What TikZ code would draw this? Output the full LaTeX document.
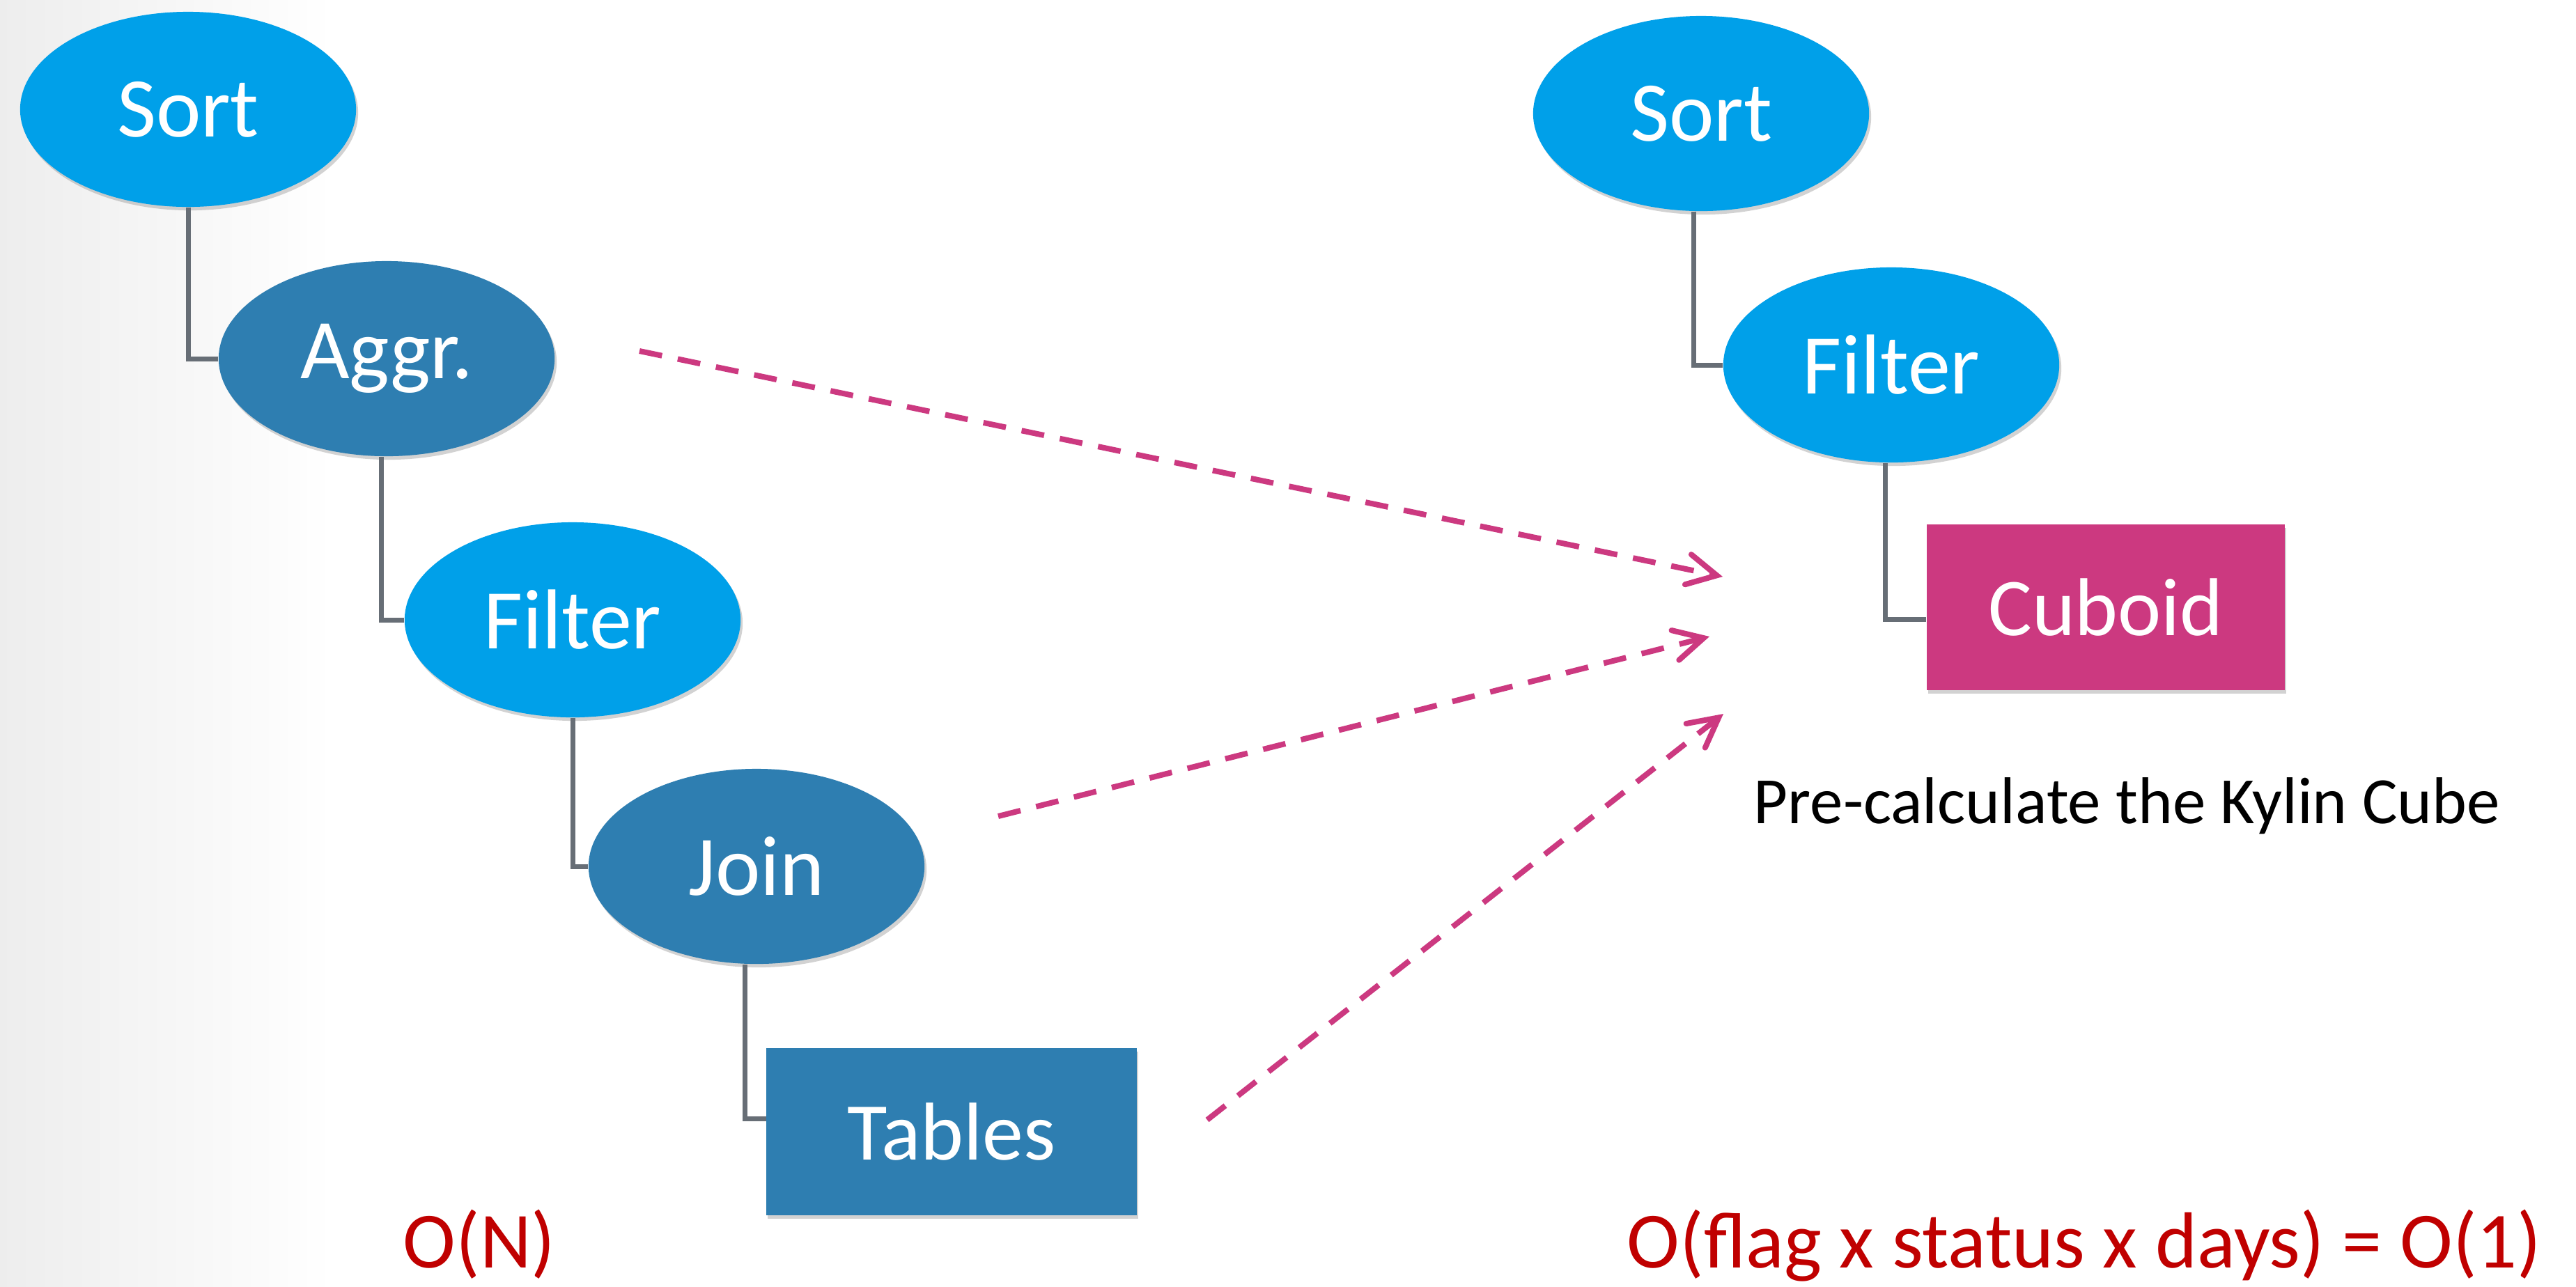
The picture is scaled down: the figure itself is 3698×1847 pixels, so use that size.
\documentclass[tikz,border=0pt]{standalone}
\usepackage{fontspec}
\setmainfont{Carlito}
\usetikzlibrary{shapes.geometric,arrows.meta,shadows}

\definecolor{opLight}{RGB}{0,160,233}
\definecolor{opDark}{RGB}{46,126,177}
\definecolor{cubeMag}{RGB}{204,57,128}
\definecolor{linkGray}{RGB}{103,110,118}
\definecolor{costRed}{RGB}{192,0,0}

\begin{document}
\begin{tikzpicture}[x=0.01cm,y=-0.01cm,
  opnode/.style={ellipse, minimum width=4.82cm, minimum height=2.8cm, inner sep=0pt,
    text=white, font=\fontsize{34.7}{41}\selectfont,
    drop shadow={shadow xshift=0.03cm, shadow yshift=-0.05cm, opacity=0.35}},
  lightop/.style={opnode, fill=opLight},
  darkop/.style={opnode, fill=opDark},
  boxnode/.style={rectangle, inner sep=0pt, text=white, font=\fontsize{33.5}{40}\selectfont,
    drop shadow={shadow xshift=0.02cm, shadow yshift=-0.05cm, opacity=0.35}},
  conn/.style={draw=linkGray, line width=0.07cm},
  flow/.style={draw=cubeMag, line width=0.08cm, dash pattern=on 0.33cm off 0.23cm,
    -{Straight Barb[length=0.42cm, width=0.44cm, line cap=round]}},
  cost/.style={anchor=base west, inner sep=0pt, text=costRed, font=\fontsize{32.5}{39}\selectfont}
]
\useasboundingbox (0,0) rectangle (3698,1847);
\fill[white] (0,0) rectangle (3698,1847);
\shade[left color=gray!14, right color=white] (0,0) rectangle (480,1847);

% query plan tree
\node[lightop] (sortL) at (270,157) {Sort};
\node[darkop] (aggrL) at (555,515) {Aggr.};
\node[lightop] (filterL) at (822,890) {Filter};
\node[darkop] (joinL) at (1086,1244) {Join};
\node[boxnode, fill=opDark, minimum width=5.31cm, minimum height=2.4cm] (tables) at (1366,1625) {Tables};

% plan over the pre-built cube
\node[lightop] (sortR) at (2442,163) {Sort};
\node[lightop] (filterR) at (2715,524) {Filter};
\node[boxnode, fill=cubeMag, minimum width=5.14cm, minimum height=2.38cm] (cuboid) at (3023,872) {Cuboid};

% tree links
\draw[conn] (sortL.south) |- (aggrL.west);
\draw[conn] ([xshift=-0.08cm]aggrL.south) |- (filterL.west);
\draw[conn] (filterL.south) |- (joinL.west);
\draw[conn] ([xshift=-0.17cm]joinL.south) |- ([yshift=0.19cm]tables.west);
\draw[conn] ([xshift=-0.11cm]sortR.south) |- (filterR.west);
\draw[conn] ([xshift=-0.09cm]filterR.south) |- ([yshift=-0.17cm]cuboid.west);

% pre-calculation arrows
\coordinate (a1s) at (918,504);
\coordinate (a1e) at (2473,828);
\coordinate (a2s) at (1433,1172);
\coordinate (a2e) at (2454,914);
\coordinate (a3s) at (1733,1608);
\coordinate (a3e) at (2474,1025);
\draw[flow] (a1s) -- (a1e);
\draw[flow] (a2s) -- (a2e);
\draw[flow] (a3s) -- (a3e);

% captions
\node[anchor=base west, inner sep=0pt, font=\fontsize{27}{32}\selectfont] (precalc) at (2517,1182) {Pre-calculate the Kylin Cube};
\node[cost] (costL) at (578,1820) {O(N)};
\node[cost] (costR) at (2335,1820) {O(flag x status x days) = O(1)};
\end{tikzpicture}
\end{document}
